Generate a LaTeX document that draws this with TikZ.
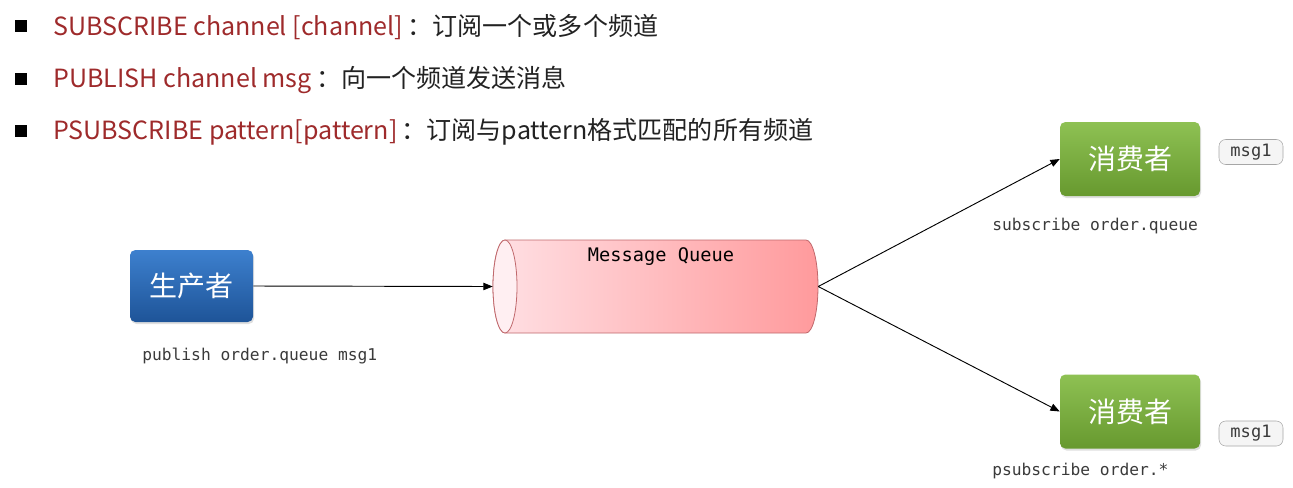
\documentclass[tikz,border=0pt]{standalone}
\usepackage{fontspec}
\setmainfont{Noto Sans CJK SC}
\newfontfamily\monof{DejaVu Sans Mono}
\usetikzlibrary{arrows.meta,shadows}
\definecolor{cmdred}{HTML}{9E2A2B}
\definecolor{txtblack}{HTML}{222222}
\definecolor{labgray}{HTML}{3A3A3A}
\definecolor{bluetop}{HTML}{3D80CE}
\definecolor{bluebot}{HTML}{1E5498}
\definecolor{greentop}{HTML}{8EC153}
\definecolor{greenbot}{HTML}{67992F}
\definecolor{mqleft}{HTML}{FFE0E4}
\definecolor{mqright}{HTML}{FF9A9C}
\definecolor{mqborder}{HTML}{C0686C}
\begin{document}
\begin{tikzpicture}[x=0.75pt,y=-0.75pt,
  bulletsq/.style={fill=black, minimum size=9.5pt, inner sep=0pt},
  bullettext/.style={anchor=west, inner sep=0pt, text=txtblack, font=\fontsize{18.8}{22}\selectfont},
  actor/.style={rounded corners=4pt, inner sep=0pt, text=white,
    font=\fontsize{21}{24}\selectfont,
    drop shadow={opacity=0.25, shadow xshift=0.8pt, shadow yshift=-1.5pt}},
  prodbox/.style={actor, minimum width=92.25pt, minimum height=54pt, top color=bluetop, bottom color=bluebot},
  consbox/.style={actor, minimum width=105pt, minimum height=55.5pt, top color=greentop, bottom color=greenbot},
  codelab/.style={anchor=west, inner sep=0pt, text=labgray, font=\monof\fontsize{12.2}{14}\selectfont},
  msgtag/.style={draw=gray!70, fill=gray!8, rounded corners=5pt, minimum width=48pt, minimum height=18.75pt, inner sep=0pt, text=labgray, font=\monof\fontsize{12.8}{14}\selectfont},
  conn/.style={draw=black, line width=0.7pt, -{Triangle[length=7pt,width=5.5pt]}}
]
\useasboundingbox (0,0) rectangle (1293,487);

% bullets
\node[bulletsq] (b1) at (21,26) {};
\node[bulletsq] (b2) at (21,79) {};
\node[bulletsq] (b3) at (21,131) {};
\node[bullettext] (t1) at (53,27) {{\color{cmdred}SUBSCRIBE channel [channel]}\,：订阅一个或多个频道};
\node[bullettext] (t2) at (53,80) {{\color{cmdred}PUBLISH channel msg}\,：向一个频道发送消息};
\node[bullettext] (t3) at (53,132) {{\color{cmdred}PSUBSCRIBE pattern[pattern]}\,：订阅与pattern格式匹配的所有频道};

% producer
\node[prodbox] (prod) at (191.5,286) {生产者};
\node[codelab] (publab) at (142,356) {publish order.queue msg1};

% message queue cylinder
\node[minimum width=243.75pt, minimum height=69.75pt, inner sep=0pt] (mq) at (655.5,286.5) {};
\shade[left color=mqleft, right color=mqright, draw=mqborder, line width=0.6pt]
  (505,240) -- (806,240) arc[start angle=90, end angle=-90, x radius=9pt, y radius=34.875pt]
  -- (505,333) arc[start angle=270, end angle=90, x radius=9pt, y radius=34.875pt] -- cycle;
\draw[draw=mqborder, fill=mqleft!50!white, line width=0.6pt] (505,286.5) ellipse [x radius=9pt, y radius=34.875pt];
\node[inner sep=0pt, text=black, font=\monof\fontsize{14}{16}\selectfont] (mqlab) at (661,257) {Message Queue};

% consumers
\node[consbox] (c1) at (1130,159) {消费者};
\node[consbox] (c2) at (1130,411.5) {消费者};
\node[codelab] (sublab) at (992,226) {subscribe order.queue};
\node[codelab] (psublab) at (992,471) {psubscribe order.*};
\node[msgtag] (m1) at (1251,152) {msg1};
\node[msgtag] (m2) at (1251,433.5) {msg1};

% connectors
\draw[conn] (prod.east) -- (mq.west);
\draw[conn] (mq.east) -- (c1.west);
\draw[conn] (mq.east) -- (c2.west);
\end{tikzpicture}
\end{document}
